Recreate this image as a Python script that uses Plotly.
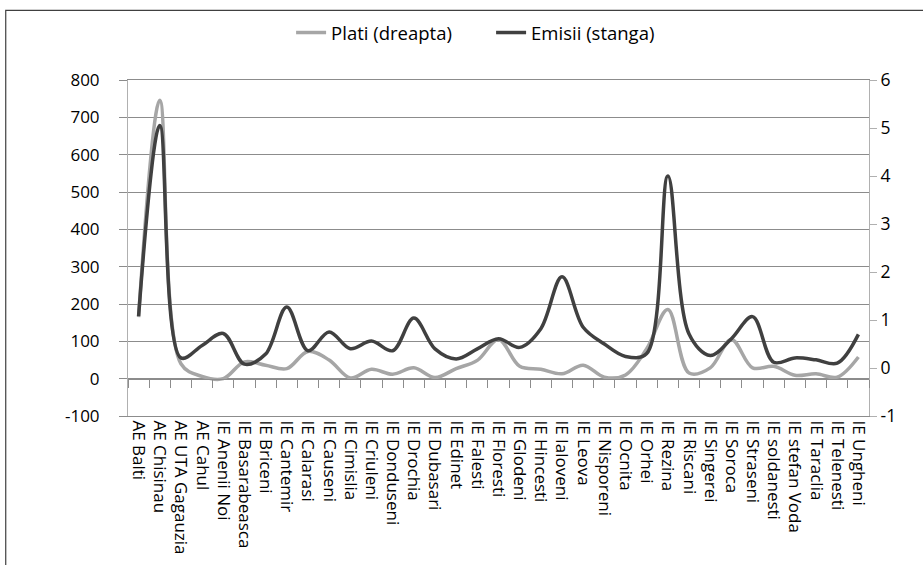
import plotly.graph_objects as go

categories = [
    "AE Balti", "AE Chisinau", "AE UTA Gagauzia", "AE Cahul", "IE Anenii Noi",
    "IE Basarabeasca", "IE Briceni", "IE Cantemir", "IE Calarasi", "IE Causeni",
    "IE Cimislia", "IE Criuleni", "IE Donduseni", "IE Drochia", "IE Dubasari",
    "IE Edinet", "IE Falesti", "IE Floresti", "IE Glodeni", "IE Hincesti",
    "IE Ialoveni", "IE Leova", "IE Nisporeni", "IE Ocnita", "IE Orhei",
    "IE Rezina", "IE Riscani", "IE Singerei", "IE Soroca", "IE Straseni",
    "IE soldanesti", "IE stefan Voda", "IE Taraclia", "IE Telenesti", "IE Ungheni",
]

plati = [
    165, 746, 40, 6, 0, 45, 36, 27, 73, 50,
    2, 25, 12, 29, 3, 27, 49, 105, 33, 25,
    13, 36, 4, 10, 80, 185, 15, 29, 105, 29,
    33, 9, 13, 4, 58,
]

emisii = [
    1.08, 5.05, 0.21, 0.47, 0.72, 0.08, 0.29, 1.27, 0.36, 0.75,
    0.40, 0.56, 0.36, 1.04, 0.40, 0.19, 0.40, 0.61, 0.43, 0.82,
    1.90, 0.85, 0.50, 0.24, 0.30, 4.00, 0.71, 0.26, 0.61, 1.07,
    0.12, 0.21, 0.17, 0.10, 0.70,
]

left_ticks = list(range(-100, 801, 100))
right_ticks = list(range(-1, 7))

FONT = "Open Sans"
GRID = "#8c8c8c"

fig = go.Figure()
fig.add_trace(go.Scatter(
    x=categories, y=plati, name="Plati (dreapta)", mode="lines",
    line=dict(color="#a6a6a6", width=3.5, shape="spline", smoothing=1.0),
    xaxis="x", yaxis="y",
))
fig.add_trace(go.Scatter(
    x=categories, y=emisii, name="Emisii (stanga)", mode="lines",
    line=dict(color="#404040", width=3.5, shape="spline", smoothing=1.0),
    xaxis="x2", yaxis="y2",
))

fig.update_layout(
    width=923, height=565,
    margin=dict(l=128, r=54, t=80, b=149, autoexpand=False),
    paper_bgcolor="white", plot_bgcolor="white",
    font=dict(family=FONT, size=17, color="#000000"),
    showlegend=True,
    legend=dict(orientation="h", x=0.49, xanchor="center",
                yref="container", y=1 - 33 / 565, yanchor="middle",
                entrywidth=155, itemwidth=30,
                font=dict(size=18.5), bgcolor="rgba(0,0,0,0)", traceorder="normal"),
    xaxis=dict(
        type="category", categoryorder="array", categoryarray=categories,
        range=[-0.5, len(categories) - 0.5], automargin=False,
        tickangle=90, ticks="", showgrid=False,
        showline=True, linecolor=GRID, linewidth=1, mirror=True,
        tickfont=dict(size=17), zeroline=False,
    ),
    xaxis2=dict(
        type="category", categoryorder="array", categoryarray=categories,
        range=[-0.5, len(categories) - 0.5], automargin=False,
        overlaying="x", anchor="free", position=1 / 9,
        showline=True, linecolor=GRID, linewidth=1,
        ticks="outside", ticklen=8, tickcolor=GRID, tickson="boundaries",
        showticklabels=False, showgrid=False, zeroline=False,
    ),
    yaxis=dict(
        range=[-100, 800], tickvals=left_ticks, ticktext=[str(v) for v in left_ticks],
        automargin=False,
        showgrid=True, gridcolor=GRID, gridwidth=1,
        ticks="outside", ticklen=8, tickcolor=GRID,
        showline=True, linecolor="#b0b0b0", linewidth=1,
        zeroline=False, ticklabelstandoff=16, tickfont=dict(size=17),
    ),
    yaxis2=dict(
        range=[-1, 6], tickvals=right_ticks, ticktext=[str(v) for v in right_ticks],
        automargin=False,
        overlaying="y", side="right", anchor="x",
        showgrid=False, ticks="outside", ticklen=7, tickcolor="#b0b0b0",
        showline=True, linecolor="#b0b0b0", linewidth=1,
        zeroline=False, tickfont=dict(size=17.5),
    ),
    shapes=[dict(
        type="rect", xref="paper", yref="paper",
        x0=-0.165, x1=1.2, y0=-0.6, y1=1.207,
        line=dict(color="#404040", width=1.2), fillcolor="rgba(0,0,0,0)", layer="below",
    )],
)

fig.write_html(
    "out.html",
    config={"displayModeBar": False},
    post_script="document.body.style.margin='0';document.body.style.padding='0';",
)
